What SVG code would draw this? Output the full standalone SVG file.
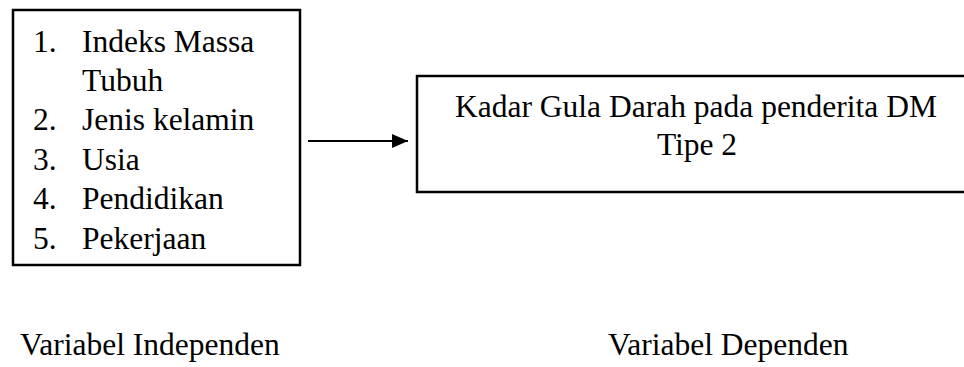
<svg xmlns="http://www.w3.org/2000/svg" width="964" height="367" viewBox="0 0 964 367">
  <defs>
    <style>
      .box { fill: #ffffff; stroke: #000000; stroke-width: 2.5; }
      .t { font-family: "Liberation Serif", "Times New Roman", serif; font-size: 31.5px; fill: #000000; }
      .mid { text-anchor: middle; }
      .edge { stroke: #000000; stroke-width: 2; fill: none; }
    </style>
    <marker id="arrowhead" viewBox="0 0 16 14" refX="16" refY="7" markerWidth="16" markerHeight="14" markerUnits="userSpaceOnUse" orient="auto">
      <polygon points="0,0 16,7 0,14" fill="#000000"/>
    </marker>
  </defs>
  <rect width="964" height="367" fill="#ffffff"/>

  <!-- independent variables -->
  <g id="independent">
    <rect class="box" x="13" y="10" width="287" height="255"/>
    <text class="t" x="33" y="52">1.</text>
    <text class="t" x="82" y="52">Indeks Massa</text>
    <text class="t" x="82" y="91">Tubuh</text>
    <text class="t" x="33" y="130">2.</text>
    <text class="t" x="82" y="130">Jenis kelamin</text>
    <text class="t" x="33" y="170">3.</text>
    <text class="t" x="82" y="170">Usia</text>
    <text class="t" x="33" y="209">4.</text>
    <text class="t" x="82" y="209">Pendidikan</text>
    <text class="t" x="33" y="249">5.</text>
    <text class="t" x="82" y="249">Pekerjaan</text>
  </g>

  <!-- dependent variable -->
  <g id="dependent">
    <rect class="box" x="417" y="76" width="570" height="116"/>
    <text class="t mid" x="696" y="117">Kadar Gula Darah pada penderita DM</text>
    <text class="t mid" x="697" y="155">Tipe 2</text>
  </g>

  <!-- connectors -->
  <g id="connectors">
    <line class="edge" x1="308" y1="141" x2="408" y2="141" marker-end="url(#arrowhead)"/>
  </g>

  <!-- captions -->
  <g id="captions">
    <text class="t" x="20" y="355">Variabel Independen</text>
    <text class="t" x="608" y="355">Variabel Dependen</text>
  </g>
</svg>
